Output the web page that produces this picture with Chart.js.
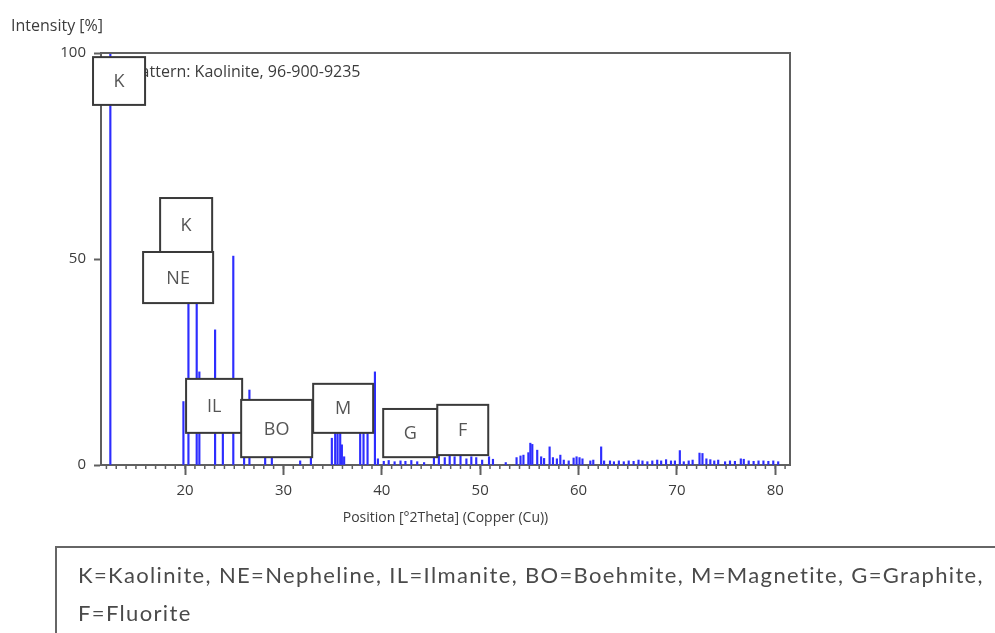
<!DOCTYPE html>
<html>
<head>
<meta charset="utf-8">
<script src="https://cdn.jsdelivr.net/npm/chart.js@4"></script>
<style>
  html, body { margin: 0; padding: 0; background: #fff; }
  #wrap { position: relative; width: 995px; height: 633px; overflow: hidden; }
  #xrd { position: absolute; left: 0; top: 0; }
  #key {
    position: absolute; left: 55px; top: 546px; width: 1000px; height: 120px;
    border: 2px solid #666; box-sizing: border-box;
    font-family: Lato, sans-serif; font-size: 22px; letter-spacing: 1.35px; color: #4a4a4a;
    padding: 8px 0 0 21px; line-height: 38px;
  }
</style>
</head>
<body>
<div id="wrap">
  <canvas id="xrd" width="995" height="633"></canvas>
  <div id="key">K=Kaolinite, NE=Nepheline, IL=Ilmanite, BO=Boehmite, M=Magnetite, G=Graphite,<br>F=Fluorite</div>
</div>
<script>
// peak positions [°2Theta] and relative intensities [%]
const positions = [
  12.4, 19.83, 20.34, 21.18, 21.45, 23.05, 23.84, 24.9, 26.0, 26.54, 28.14, 28.82,
  31.7, 32.79, 34.92, 35.26, 35.5, 35.77, 35.94, 36.17, 37.8, 38.14, 38.55, 39.3, 39.6,
  40.2, 40.7, 41.3, 41.9, 42.4, 43.0, 43.6, 44.3,
  45.3, 45.8, 46.4, 46.9, 47.4, 48.0, 48.6, 49.1, 49.6, 50.2, 50.9, 51.3, 52.6,
  53.7, 54.1, 54.4, 54.9, 55.1, 55.3, 55.8, 56.2, 56.5, 57.06, 57.4, 57.8, 58.15, 58.5, 59.0,
  59.5, 59.8, 60.1, 60.4, 61.2, 61.5, 62.3, 62.6,
  63.2, 63.6, 64.1, 64.6, 65.1, 65.6, 66.1, 66.5, 67.0, 67.5, 68.0, 68.4, 68.9, 69.4, 69.8,
  70.3, 70.7, 71.2, 71.6, 72.3, 72.6, 73.0, 73.4, 73.8, 74.2, 74.9, 75.4, 75.9, 76.5, 76.8,
  77.3, 77.8, 78.3, 78.8, 79.3, 79.8, 80.3
];
const intensities = [
  100, 15.4, 47, 44, 22.6, 32.8, 12, 50.7, 2, 18.2, 2.2, 2.5,
  1, 2, 6.5, 12, 9, 13, 4.9, 2, 10, 9, 14, 22.6, 1.5,
  0.9, 1.1, 0.8, 1, 0.9, 1.1, 0.8, 0.6,
  2, 2.2, 1.8, 2.4, 2, 2.2, 1.5, 2, 1.8, 1.2, 2, 1.4, 0.6,
  1.8, 2.2, 2.4, 3, 5.3, 5, 3.6, 2, 1.6, 4.4, 1.8, 1.5, 2.4, 1.2, 1,
  1.7, 2, 1.8, 1.5, 1, 1.2, 4.4, 1,
  1, 0.8, 1, 0.8, 1, 0.9, 1.2, 1, 0.8, 1, 1.2, 1, 1.3, 1, 1,
  3.5, 0.8, 1, 1.2, 2.9, 2.8, 1.5, 1.3, 1, 1.2, 0.8, 1, 0.9, 1.5, 1.4,
  1, 0.9, 1, 1, 0.9, 1, 0.8
];
const xTicks = [20, 30, 40, 50, 60, 70, 80];
const yTicks = [0, 50, 100];

// phase marker boxes, in data units
const boxLabels  = ['K', 'K', 'NE', 'IL', 'BO', 'M', 'G', 'F'];
const boxLeft    = [10.64, 17.46, 15.73, 20.10, 25.70, 33.02, 40.14, 45.64];
const boxRight   = [15.93, 22.75, 22.85, 25.80, 32.92, 39.12, 45.64, 50.82];
const boxTop     = [99.0, 64.8, 51.7, 20.9, 15.8, 19.7, 13.6, 14.6];
const boxBottom  = [87.4, 51.7, 39.3, 7.8, 1.9, 7.8, 1.9, 2.4];

const txtFont = '16px "Open Sans", sans-serif';
const axisGrey = '#606060';

const markers = {
  id: 'markers',
  afterDatasetsDraw(chart) {
    const { ctx, scales: { x, y } } = chart;
    ctx.save();
    ctx.font = txtFont;
    ctx.fillStyle = '#3c3c3c';
    ctx.textBaseline = 'middle';
    ctx.textAlign = 'left';
    ctx.fillText('Pattern: Kaolinite, 96-900-9235', x.getPixelForValue(14.5), y.getPixelForValue(95.4));

    ctx.lineWidth = 2;
    ctx.strokeStyle = '#3a3a3a';
    ctx.font = '18px "Open Sans", sans-serif';
    ctx.textAlign = 'center';
    boxLabels.forEach((lab, i) => {
      const l = x.getPixelForValue(boxLeft[i]);
      const r = x.getPixelForValue(boxRight[i]);
      const t = y.getPixelForValue(boxTop[i]);
      const b = y.getPixelForValue(boxBottom[i]);
      ctx.fillStyle = '#fff';
      ctx.fillRect(l, t, r - l, b - t);
      ctx.strokeRect(l, t, r - l, b - t);
      ctx.fillStyle = '#555';
      ctx.fillText(lab, (l + r) / 2, (t + b) / 2 + 1);
    });
    ctx.restore();
  },
  afterDraw(chart) {
    const { ctx, chartArea: a, scales: { x } } = chart;
    ctx.save();
    // top and right frame
    ctx.strokeStyle = axisGrey;
    ctx.lineWidth = 2;
    ctx.beginPath();
    ctx.moveTo(a.left, a.top);
    ctx.lineTo(a.right, a.top);
    ctx.lineTo(a.right, a.bottom);
    ctx.stroke();
    // minor ticks every degree
    ctx.lineWidth = 1.5;
    for (let v = 12; v <= 81; v++) {
      const px = x.getPixelForValue(v);
      ctx.beginPath();
      ctx.moveTo(px, a.bottom);
      ctx.lineTo(px, a.bottom + 4);
      ctx.stroke();
    }
    ctx.font = txtFont;
    ctx.fillStyle = '#3c3c3c';
    ctx.textBaseline = 'middle';
    ctx.fillText('Intensity [%]', 11, 26);
    ctx.restore();
  }
};

const ctx = document.getElementById('xrd').getContext('2d');
const chart = new Chart(ctx, {
  type: 'bar',
  data: {
    datasets: [{
      label: 'Kaolinite',
      data: positions.map((p, i) => ({ x: p, y: intensities[i] })),
      backgroundColor: 'rgb(45, 45, 255)',
      barThickness: 1.5
    }]
  },
  options: {
    responsive: false,
    animation: false,
    layout: { padding: { left: 40, right: 205, top: 53, bottom: 107 } },
    plugins: { legend: { display: false }, tooltip: { enabled: false } },
    scales: {
      x: {
        type: 'linear',
        offset: false,
        min: 11.45,
        max: 81.5,
        afterBuildTicks: (s) => { s.ticks = xTicks.map(v => ({ value: v })); },
        afterFit: (s) => { s.height = 61; },
        grid: { offset: false, drawOnChartArea: false, tickLength: 10, tickColor: axisGrey, tickWidth: 2 },
        border: { color: axisGrey, width: 2 },
        ticks: { color: '#3c3c3c', font: { family: 'Open Sans', size: 15 }, padding: 7, maxRotation: 0 },
        title: {
          display: true,
          text: 'Position [°2Theta] (Copper (Cu))',
          color: '#3c3c3c',
          font: { family: 'Open Sans', size: 14 },
          padding: 0
        }
      },
      y: {
        min: 0,
        max: 100,
        afterBuildTicks: (s) => { s.ticks = yTicks.map(v => ({ value: v })); },
        afterFit: (s) => { s.width = 61; },
        grid: { drawOnChartArea: false, tickLength: 7, tickColor: axisGrey, tickWidth: 2 },
        border: { color: axisGrey, width: 2 },
        ticks: { color: '#3c3c3c', font: { family: 'Open Sans', size: 15 }, padding: 8 }
      }
    }
  },
  plugins: [markers]
});
</script>
</body>
</html>
